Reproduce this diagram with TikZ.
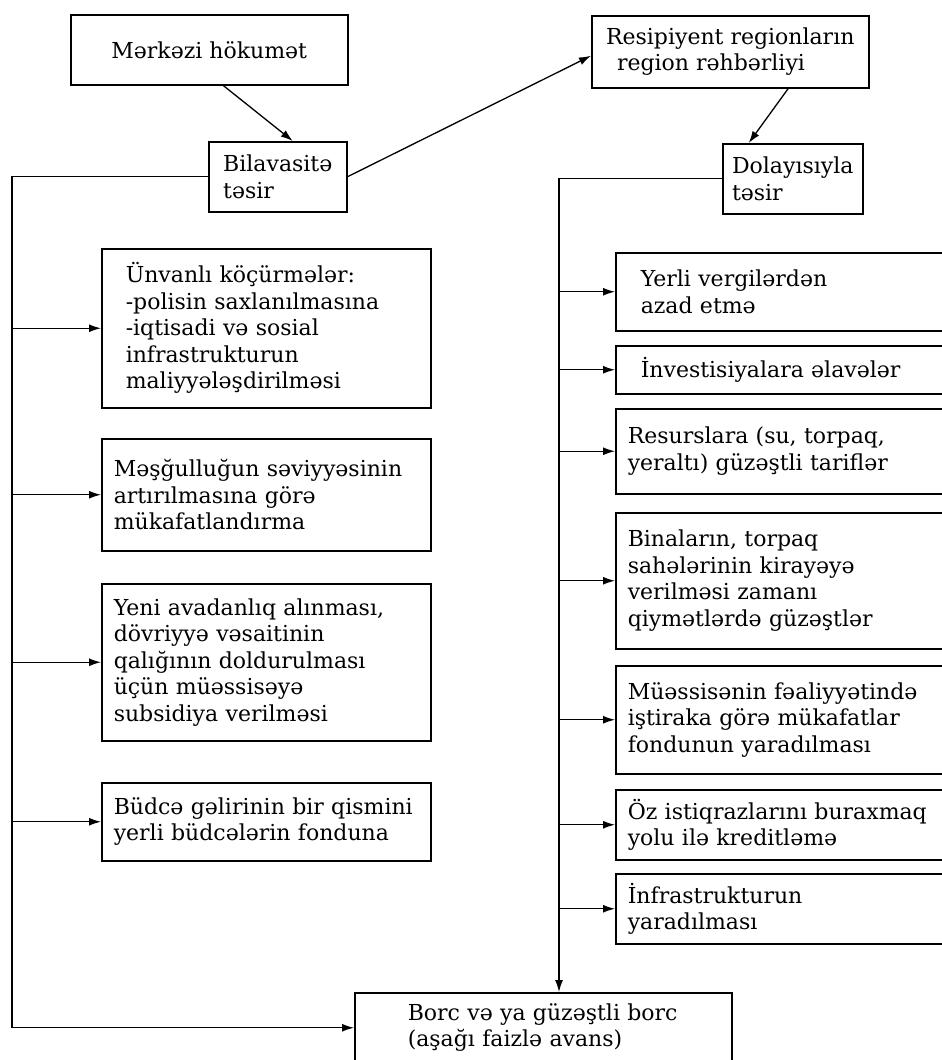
\documentclass[tikz,border=0pt]{standalone}
\usepackage{fontspec}
\setmainfont{DejaVu Serif}
\usetikzlibrary{arrows.meta,positioning}

\begin{document}
\begin{tikzpicture}[x=1pt, y=-1pt, font=\fontsize{22}{26.5}\selectfont,
  blok/.style={draw, line width=1.5pt, anchor=north west, inner xsep=12pt, inner ysep=0pt, align=left},
  ox/.style={-{Latex[length=12pt,width=8pt]}, line width=1.3pt}]
\useasboundingbox (0,0) rectangle (942,1060);
\clip (0,0) rectangle (942,1060);
\node[blok, minimum width=277pt, minimum height=70pt, align=center] (merkez) at (70,14) {Mərkəzi hökumət};
\node[blok, minimum width=138pt, minimum height=70pt, inner xsep=4pt] (bilav) at (208,141) {Bilavasitə\\təsir};
\node[blok, minimum width=277pt, minimum height=72pt] (resip) at (591,15) {Resipiyent regionların\\\hspace*{0.5em}region rəhbərliyi};
\node[blok, minimum width=140pt, minimum height=70pt, inner xsep=4pt] (dolay) at (722,143) {Dolayısıyla\\təsir};
\node[blok, text width=281pt, inner xsep=24pt, minimum height=159pt] (L1) at (101,248) {Ünvanlı köçürmələr:\\-polisin saxlanılmasına\\-iqtisadi və sosial\\infrastrukturun\\maliyyələşdirilməsi};
\node[blok, text width=305pt, minimum height=112pt] (L2) at (101,438) {Məşğulluğun səviyyəsinin\\artırılmasına görə\\mükafatlandırma};
\node[blok, text width=305pt, minimum height=157pt] (L3) at (101,583) {Yeni avadanlıq alınması,\\dövriyyə vəsaitinin\\qalığının doldurulması\\üçün müəssisəyə\\subsidiya verilməsi};
\node[blok, text width=305pt, minimum height=78pt] (L4) at (101,782) {Büdcə gəlirinin bir qismini\\yerli büdcələrin fonduna};
\node[blok, text width=310pt, inner xsep=25pt, minimum height=78pt] (R1) at (615,252) {Yerli vergilərdən\\azad etmə};
\node[blok, text width=310pt, inner xsep=25pt, minimum height=48pt] (R2) at (615,345) {İnvestisiyalara əlavələr};
\node[blok, text width=336pt, minimum height=85pt] (R3) at (615,408) {Resurslara (su, torpaq,\\yeraltı) güzəştli tariflər};
\node[blok, text width=336pt, minimum height=136pt] (R4) at (615,512) {Binaların, torpaq\\sahələrinin kirayəyə\\verilməsi zamanı\\qiymətlərdə güzəştlər};
\node[blok, text width=336pt, minimum height=108pt] (R5) at (615,665) {Müəssisənin fəaliyyətində\\iştiraka görə mükafatlar\\fondunun yaradılması};
\node[blok, text width=336pt, minimum height=70pt] (R6) at (615,789) {Öz istiqrazlarını buraxmaq\\yolu ilə kreditləmə};
\node[blok, text width=336pt, minimum height=70pt] (R7) at (615,873) {İnfrastrukturun\\yaradılması};
\node[blok, text width=271pt, inner xsep=53pt, minimum height=70pt] (borc) at (354,992) {Borc və ya güzəştli borc\\(aşağı faizlə avans)};
\coordinate (solxett) at (12,0);
\coordinate (sagxett) at (559,0);
\draw[ox] ([xshift=14pt]merkez.south) -- ([xshift=15pt]bilav.north);
\draw[ox] (bilav.east) -- ([yshift=-4pt]resip.west);
\draw[ox] ([xshift=58pt]resip.south) -- ([xshift=-44pt]dolay.north);
\draw[ox] (bilav.west) -- (bilav.west -| solxett) |- (borc.west);
\draw[ox] (L1.west -| solxett) -- (L1.west);
\draw[ox] (L2.west -| solxett) -- (L2.west);
\draw[ox] (L3.west -| solxett) -- (L3.west);
\draw[ox] (L4.west -| solxett) -- (L4.west);
\draw[ox] (dolay.west) -- (dolay.west -| sagxett) -- (borc.north -| sagxett);
\draw[ox] (R1.west -| sagxett) -- (R1.west);
\draw[ox] (R2.west -| sagxett) -- (R2.west);
\draw[ox] (R3.west -| sagxett) -- (R3.west);
\draw[ox] (R4.west -| sagxett) -- (R4.west);
\draw[ox] (R5.west -| sagxett) -- (R5.west);
\draw[ox] (R6.west -| sagxett) -- (R6.west);
\draw[ox] (R7.west -| sagxett) -- (R7.west);
\end{tikzpicture}
\end{document}
